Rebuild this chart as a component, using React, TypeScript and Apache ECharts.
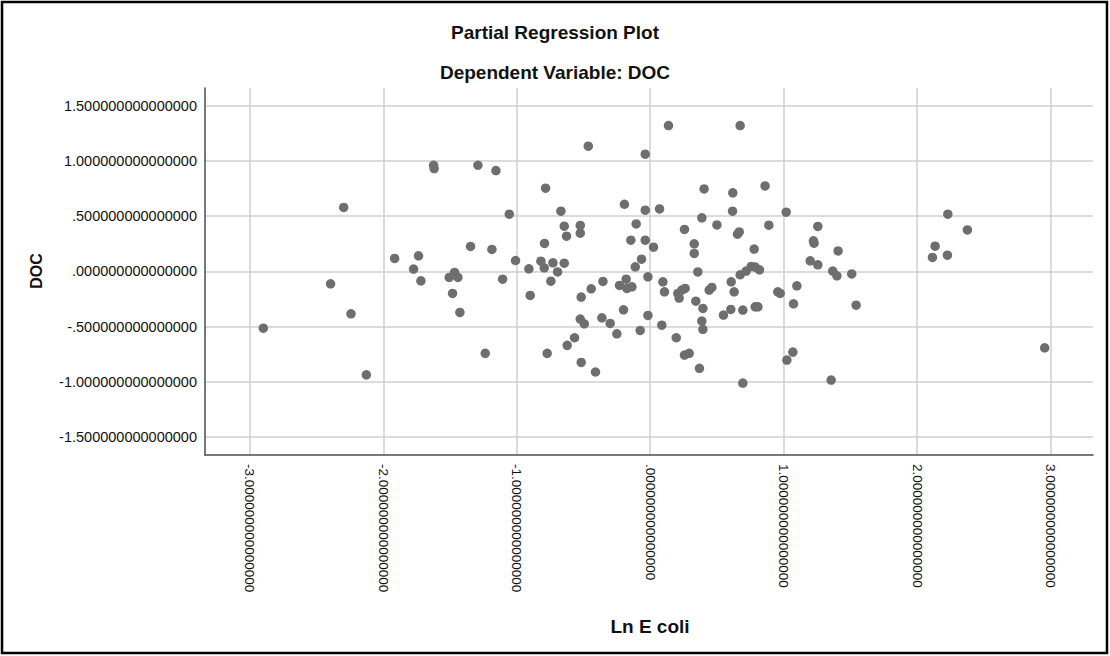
import React, { useEffect, useRef } from "react";
import * as echarts from "echarts";

// Partial regression residuals: Ln E coli (x) against DOC (y)
const lnEColi: number[] = [
  -2.899, -2.395, -2.297, -2.242, -2.127, -1.915, -1.773, -1.736, -1.718, -1.623,
  -1.619, -1.506, -1.466, -1.441, -1.481, -1.426, -1.346, -1.291, -1.236, -1.186,
  -1.156, -1.106, -1.056, -1.009, -0.909, -0.899, -0.819, -0.794, -0.792, -0.784,
  -0.772, -0.744, -0.729, -0.694, -0.669, -0.644, -0.644, -0.627, -0.622, -0.567,
  -0.524, -0.524, -0.524, -0.517, -0.517, -0.494, -0.464, -0.442, -0.41, -0.362,
  -0.354, -0.3, -0.25, -0.23, -0.2, -0.193, -0.18, -0.175, -0.145, -0.137,
  -0.112, -0.105, -0.065, -0.075, -0.037, -0.037, -0.037, -0.017, -0.017, 0.025,
  0.07, 0.087, 0.095, 0.107, 0.137, 0.195, 0.207, 0.217, 0.237, 0.257,
  0.257, 0.262, 0.292, 0.33, 0.33, 0.342, 0.357, 0.369, 0.387, 0.387,
  0.395, 0.395, 0.404, 0.442, 0.462, 0.5, 0.549, 0.604, 0.607, 0.617,
  0.619, 0.629, 0.654, 0.667, 0.674, 0.674, 0.694, 0.694, 0.719, 0.757,
  0.787, 0.779, 0.787, 0.807, 0.819, 0.861, 0.889, 0.956, 0.974, 1.019,
  1.024, 1.069, 1.074, 1.099, 1.199, 1.223, 1.228, 1.256, 1.256, 1.356,
  1.368, 1.399, 1.408, 1.51, 1.543, 2.115, 2.135, 2.227, 2.23, 2.377,
  2.956,
];

const docResidual: number[] = [
  -0.513, -0.112, 0.579, -0.383, -0.935, 0.118, 0.021, 0.141, -0.085, 0.961,
  0.931, -0.054, -0.009, -0.054, -0.199, -0.371, 0.226, 0.961, -0.741, 0.199,
  0.913, -0.07, 0.518, 0.099, 0.024, -0.217, 0.093, 0.033, 0.253, 0.753,
  -0.741, -0.088, 0.078, -0.004, 0.545, 0.41, 0.075, 0.319, -0.669, -0.6,
  0.416, 0.346, -0.431, -0.232, -0.823, -0.474, 1.133, -0.157, -0.91, -0.42,
  -0.09, -0.47, -0.564, -0.127, -0.347, 0.608, -0.07, -0.154, 0.283, -0.139,
  0.042, 0.43, 0.111, -0.534, 1.061, 0.554, 0.283, -0.049, -0.398, 0.22,
  0.566, -0.486, -0.094, -0.184, 1.32, -0.6, -0.199, -0.241, -0.169, 0.38,
  -0.757, -0.154, -0.741, 0.25, 0.163, -0.269, -0.004, -0.877, 0.485, -0.449,
  -0.335, -0.524, 0.747, -0.169, -0.145, 0.421, -0.395, -0.344, -0.094, 0.545,
  0.711, -0.184, 0.337, 0.358, 1.32, -0.03, -0.35, -1.01, 0.003, 0.045,
  0.04, 0.202, -0.32, -0.32, 0.015, 0.774, 0.419, -0.184, -0.199, 0.536,
  -0.802, -0.73, -0.293, -0.13, 0.096, 0.277, 0.256, 0.407, 0.06, -0.983,
  0.003, -0.04, 0.186, -0.022, -0.305, 0.127, 0.229, 0.147, 0.518, 0.376,
  -0.691,
];

const xTickValues: number[] = [-3, -2, -1, 0, 1, 2, 3];
const yTickValues: number[] = [-1.5, -1, -0.5, 0, 0.5, 1, 1.5];

const FONT = 'Arial, "Liberation Sans", sans-serif';

// SPSS-style number: 15 decimals, no leading zero before the point
const spssNumber = (v: number): string => {
  const s = (Math.abs(v) < 1e-9 ? 0 : v).toFixed(15);
  return s.replace(/^(-?)0\./, "$1.");
};

const tickFormatter = (ticks: number[]) => (v: number): string =>
  ticks.some((t) => Math.abs(t - v) < 1e-6) ? spssNumber(v) : "";

export default function App() {
  const ref = useRef<HTMLDivElement>(null);

  useEffect(() => {
    document.body.style.margin = "0";
    if (!ref.current) return;
    const chart = echarts.init(ref.current, undefined, { renderer: "svg" });

    const points = lnEColi.map((x, i) => [x, docResidual[i]]);

    const titleStyle = {
      fontFamily: FONT,
      fontSize: 19,
      fontWeight: "bold",
      fill: "#111111",
      textAlign: "center",
      textVerticalAlign: "middle",
    };

    chart.setOption({
      animation: false,
      backgroundColor: "#ffffff",
      textStyle: { fontFamily: FONT },
      grid: { left: 205, right: 17, top: 88, bottom: 201, containLabel: false },
      xAxis: {
        type: "value",
        min: -3.336,
        max: 3.318,
        splitNumber: 7,
        axisLine: { onZero: false, lineStyle: { color: "#4d4d4d", width: 1.5 } },
        axisTick: { show: false },
        axisLabel: {
          rotate: -90,
          margin: 9,
          color: "#111111",
          fontSize: 13.5,
          fontFamily: FONT,
          showMinLabel: false,
          showMaxLabel: false,
          formatter: tickFormatter(xTickValues),
        },
        splitLine: {
          show: true,
          showMinLine: false,
          showMaxLine: false,
          lineStyle: { color: "#cfcfcf", width: 1.5 },
        },
      },
      yAxis: {
        type: "value",
        min: -1.661,
        max: 1.66,
        splitNumber: 6,
        axisLine: { show: true, onZero: false, lineStyle: { color: "#4d4d4d", width: 1.5 } },
        axisTick: { show: false },
        axisLabel: {
          margin: 8,
          color: "#111111",
          fontSize: 14.5,
          fontFamily: FONT,
          showMinLabel: false,
          showMaxLabel: false,
          formatter: tickFormatter(yTickValues),
        },
        splitLine: {
          show: true,
          showMinLine: false,
          showMaxLine: false,
          lineStyle: { color: "#cfcfcf", width: 1.5 },
        },
      },
      series: [
        {
          type: "scatter",
          data: points,
          symbol: "circle",
          symbolSize: 9.5,
          itemStyle: { color: "#6e6e6e", opacity: 1 },
          silent: true,
        },
      ],
      graphic: [
        {
          type: "rect",
          shape: { x: 2, y: 2, width: 1105, height: 651 },
          style: { fill: "none", stroke: "#000000", lineWidth: 2.5 },
          silent: true,
        },
        {
          type: "text",
          x: 555,
          y: 32,
          style: { ...titleStyle, text: "Partial Regression Plot" },
        },
        {
          type: "text",
          x: 555,
          y: 72,
          style: { ...titleStyle, text: "Dependent Variable: DOC" },
        },
        {
          type: "text",
          x: 36,
          y: 271,
          rotation: Math.PI / 2,
          style: { ...titleStyle, fontSize: 16, text: "DOC" },
        },
        {
          type: "text",
          x: 650,
          y: 626,
          style: { ...titleStyle, text: "Ln E coli" },
        },
      ],
    });

    return () => {
      chart.dispose();
    };
  }, []);

  return <div ref={ref} style={{ width: 1110, height: 656 }} />;
}
